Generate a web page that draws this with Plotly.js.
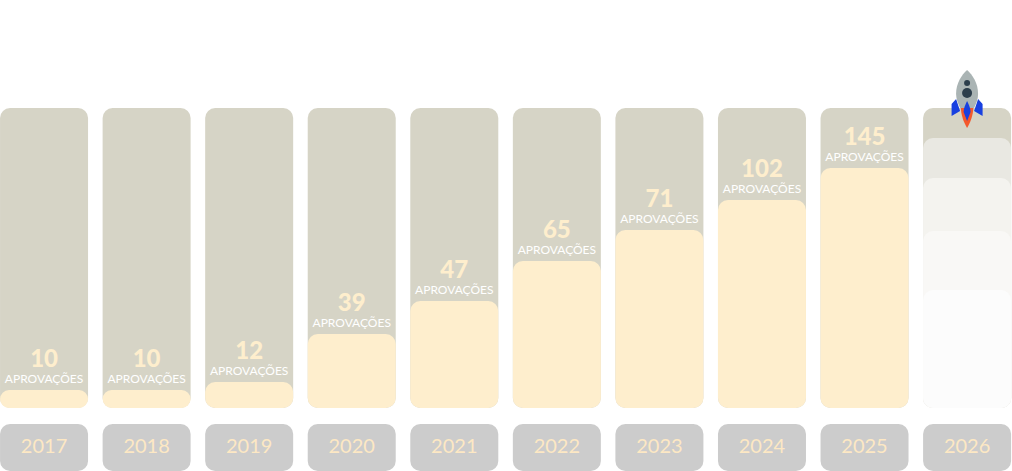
<!DOCTYPE html>
<html><head><meta charset="utf-8">
<script src="https://cdn.plot.ly/plotly-3.0.1.min.js"></script>
<style>html,body{margin:0;padding:0;background:#fff;overflow:hidden}</style>
</head><body><div id="chart" style="width:1012px;height:471px"></div>
<script>
const years = ['2017','2018','2019','2020','2021','2022','2023','2024','2025','2026'];
const approvals = [10,10,12,39,47,65,71,102,145,null];
const barHeights = [18,18,26,74,107,147,178,208,240,0];
const trackHeights = [300,300,300,300,300,300,300,300,300,300];
const fadeHeights = [270,230,177,118];
const fadeColors = ['#e9e8e2','#f4f3ef','#f9f8f6','#fcfcfc'];
const tileHeight = 47;
const tileBase = -63;
const unit = 'APROVAÇÕES';
const FONT = 'Lato, sans-serif';
const BAR_W = 0.85803, R = 10;
const idx = years.map((_, i) => i);
const traces = [];
const layout = {
  width:1012, height:471, margin:{l:0,r:0,t:0,b:0}, paper_bgcolor:'#fff', plot_bgcolor:'rgba(0,0,0,0)',
  barmode:'overlay', showlegend:false, hovermode:false
};
const pitch = 102.56, offset = 44.05;
layout.xaxis = {range:[-offset/pitch,(1012-offset)/pitch], visible:false, fixedrange:true};
let axisCount = 0;
function newAxis() {
  axisCount++;
  const name = axisCount === 1 ? 'yaxis' : 'yaxis' + axisCount;
  layout[name] = {range:[tileBase,408], visible:false, fixedrange:true};
  if (axisCount > 1) layout[name].overlaying = 'y';
  return axisCount === 1 ? 'y' : 'y' + axisCount;
}
// an explicit base makes the library round both ends of the bar
function block(xs, bases, heights, color) {
  const ya = newAxis();
  traces.push({type:'bar', x:xs, y:heights, base:bases, width:BAR_W, yaxis:ya, hoverinfo:'skip', showlegend:false,
    marker:{color, line:{width:0}, cornerradius:R}});
  return ya;
}
block(idx, idx.map(() => 0), trackHeights, '#d6d4c6');
const shown = idx.filter(i => approvals[i] !== null);
block(shown, shown.map(() => 0), shown.map(i => barHeights[i]), '#feeecd');
fadeHeights.forEach((h, k) => block([9], [0], [h], fadeColors[k]));
const topAxis = block(idx, idx.map(() => tileBase), idx.map(() => tileHeight), '#cccccc');
traces.push({type:'scatter', mode:'text', x:idx, y:idx.map(() => tileBase + tileHeight / 2), yaxis:topAxis,
  text:years, textposition:'middle center', textfont:{family:FONT, size:20, color:'#fde8c4'}, hoverinfo:'skip', showlegend:false, cliponaxis:false});
traces.push({type:'scatter', mode:'text', x:shown, y:shown.map(i => barHeights[i] + 29), yaxis:topAxis,
  text:shown.map(i => String(approvals[i])), textposition:'middle center',
  textfont:{family:FONT, size:24, color:'#feeecd', weight:900}, hoverinfo:'skip', showlegend:false, cliponaxis:false});
traces.push({type:'scatter', mode:'text', x:shown, y:shown.map(i => barHeights[i] + 10), yaxis:topAxis,
  text:shown.map(() => unit), textposition:'middle center',
  textfont:{family:FONT, size:12, color:'#ffffff', weight:400}, hoverinfo:'skip', showlegend:false, cliponaxis:false});
const rocket = `<svg xmlns="http://www.w3.org/2000/svg" width="36" height="60" viewBox="0 0 36 60">
<path d="M11.500 36 C12 46 15 53 18 58 C21 53 24 46 24.500 36Z" fill="#f4582c"/>
<path d="M7 29 L2.500 34 L2.500 46 L11 41 Z M29 29 L33.500 34 L33.500 46 L25 41 Z" fill="#1840e0"/>
<path d="M18 0 C23.500 5 29 13 29 24 C29 29 27 34 25 38 L11 38 C9 34 7 29 7 24 C7 13 12.500 5 18 0Z" fill="#aab4b4"/>
<path d="M18 31 C19.500 34 21.500 38 21.500 42 L18 51 L14.500 42 C14.500 38 16.500 34 18 31Z" fill="#1840e0"/>
<circle cx="18" cy="13" r="3" fill="#2c3e4c"/><circle cx="18" cy="23" r="5" fill="#2c3e4c"/></svg>`;
layout.images = [{source:'data:image/svg+xml;charset=utf-8,'+encodeURIComponent(rocket), xref:'x', yref:'y',
  x:9, y:338, sizex:36/pitch, sizey:60, xanchor:'center', yanchor:'top', sizing:'stretch', layer:'above'}];
Plotly.newPlot('chart', traces, layout, {staticPlot:true, displayModeBar:false});
</script></body></html>
